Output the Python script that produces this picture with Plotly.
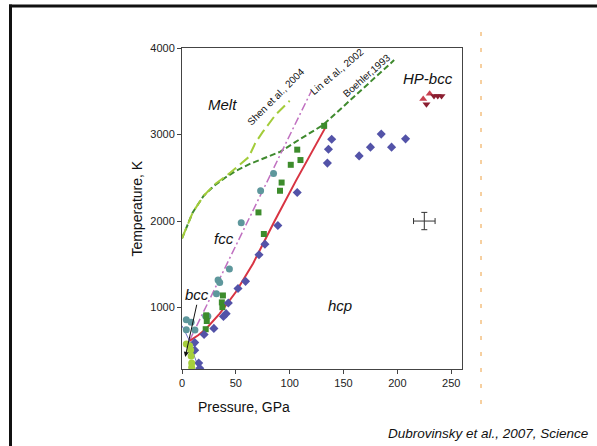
import plotly.graph_objects as go

# ---- data (pressure GPa, temperature K) ----
boehler_p = [0, 5, 10, 20, 30, 40, 50, 63, 91, 110, 131, 160, 197]
boehler_t = [1800, 1960, 2100, 2290, 2410, 2500, 2580, 2660, 2800, 2950, 3110, 3440, 3860]

shen_p = [0, 5, 10, 20, 30, 45, 62, 68, 75, 87, 100]
shen_t = [1800, 1960, 2100, 2290, 2420, 2560, 2740, 2900, 3030, 3230, 3390]

lin_p = [7, 120]
lin_t = [620, 3500]

red_p = [7, 15, 22, 35, 50, 66, 86, 106, 134]
red_t = [615, 680, 750, 930, 1180, 1510, 2000, 2470, 3100]

blue_line_p = [0, 7, 12, 16]
blue_line_t = [790, 615, 420, 290]

teal_p = [85, 73, 55, 44, 33.5, 35, 32, 24, 22, 4, 8.5, 4, 12]
teal_t = [2550, 2350, 1980, 1445, 1320, 1290, 1160, 900, 900, 860, 830, 745, 740]

square_p = [132, 107, 110, 101, 92.5, 91, 71, 76, 38, 37, 37.5, 22.5, 23, 22]
square_t = [3100, 2825, 2705, 2650, 2445, 2350, 2100, 1850, 1140, 1060, 1005, 910, 845, 750]

diamond_p = [139, 136, 135, 164.5, 175, 185, 194.6, 207.6, 107, 89, 77, 71.5, 59, 52,
             43, 41, 38.5, 29.6, 20.5, 11.8, 11.8, 15.5, 16.5]
diamond_t = [2945, 2830, 2670, 2753, 2854, 3005, 2854, 2950, 2330, 1948, 1733, 1610, 1303, 1220,
             1052, 930, 898, 759, 688, 595, 508, 358, 298]

lightgreen_p = [4, 7, 8, 8.5, 9, 9]
lightgreen_t = [580, 560, 510, 440, 360, 310]

tri_up_p = [224, 230]
tri_up_t = [3410, 3470]
tri_down_p = [227, 234, 237.5, 241]
tri_down_t = [3350, 3445, 3445, 3445]

err_p = [225]
err_t = [2000]
err_dp = [10]
err_dt = [100]

x_ticks = [0, 50, 100, 150, 200, 250]
y_ticks = [1000, 2000, 3000, 4000]

fig = go.Figure()

fig.add_trace(go.Scatter(x=boehler_p, y=boehler_t, mode="lines",
                         line=dict(color="#3f8a2e", width=2, dash="6px,3px")))
fig.add_trace(go.Scatter(x=shen_p, y=shen_t, mode="lines",
                         line=dict(color="#a3cc3a", width=2, dash="11px,5px")))
fig.add_trace(go.Scatter(x=lin_p, y=lin_t, mode="lines",
                         line=dict(color="#c070c0", width=1.5, dash="8px,3px,2px,3px")))
fig.add_trace(go.Scatter(x=red_p, y=red_t, mode="lines",
                         line=dict(color="#d83442", width=2)))
fig.add_trace(go.Scatter(x=blue_line_p, y=blue_line_t, mode="lines",
                         line=dict(color="#7070c8", width=1)))

fig.add_trace(go.Scatter(x=teal_p, y=teal_t, mode="markers",
                         marker=dict(symbol="circle", size=7, color="#5e979c")))
fig.add_trace(go.Scatter(x=square_p, y=square_t, mode="markers",
                         marker=dict(symbol="square", size=6, color="#3d8c2c")))
fig.add_trace(go.Scatter(x=diamond_p, y=diamond_t, mode="markers",
                         marker=dict(symbol="diamond", size=7, color="#5353a8")))
fig.add_trace(go.Scatter(x=lightgreen_p, y=lightgreen_t, mode="markers",
                         marker=dict(symbol="circle", size=7, color="#a6cf3c")))
fig.add_trace(go.Scatter(x=tri_up_p, y=tri_up_t, mode="markers",
                         marker=dict(symbol="triangle-up", size=7, color="#c8404f")))
fig.add_trace(go.Scatter(x=tri_down_p, y=tri_down_t, mode="markers",
                         marker=dict(symbol="triangle-down", size=7, color="#8b1e30")))
fig.add_trace(go.Scatter(x=err_p, y=err_t, mode="markers",
                         marker=dict(size=1, color="rgba(0,0,0,0)"),
                         error_x=dict(type="data", array=err_dp, color="#333333", thickness=1, width=3),
                         error_y=dict(type="data", array=err_dt, color="#333333", thickness=1, width=3)))

font_main = "Liberation Sans, Arial, sans-serif"

fig.update_layout(
    width=597, height=446,
    margin=dict(l=182, r=135, t=48, b=77),
    paper_bgcolor="white", plot_bgcolor="white",
    showlegend=False,
    font=dict(family=font_main, size=11, color="#222222"),
    xaxis=dict(range=[0, 260], tickvals=x_ticks, ticks="outside", ticklen=4,
               tickcolor="#444", showline=True, linecolor="#444", linewidth=1,
               mirror=True, showgrid=False, zeroline=False,
               tickfont=dict(size=11, color="#222")),
    yaxis=dict(range=[290, 4000], tickvals=y_ticks, ticks="outside", ticklen=4,
               tickcolor="#444", showline=True, linecolor="#444", linewidth=1,
               mirror=True, showgrid=False, zeroline=False,
               tickfont=dict(size=11, color="#222")),
)

def lab(text, x, y, size=15, angle=0, ref="data"):
    d = dict(text=text, x=x, y=y, showarrow=False, textangle=angle,
             font=dict(family=font_main, size=size, color="#111"),
             xanchor="center", yanchor="middle")
    if ref == "paper":
        d.update(xref="paper", yref="paper")
    fig.add_annotation(**d)

lab("<i>Melt</i>", 38, 3345)
lab("<i>fcc</i>", 38.8, 1801)
lab("<i>bcc</i>", 14, 1150)
lab("<i>hcp</i>", 146.6, 1021)
lab("<i>HP-bcc</i>", 228.6, 3645)
lab("Shen et al., 2004", 87.4, 3436, size=10, angle=-45)
lab("Lin et al., 2002", 144, 3729, size=10, angle=-40)
lab("Boehler,1993", 171.4, 3681, size=10, angle=-41.5)

# axis titles
lab("Pressure, GPa", 0.221, -0.118, size=14, ref="paper")
lab("Temperature, K", -0.164, 0.5, size=14, angle=-90, ref="paper")

# citation
fig.add_annotation(text="<i>Dubrovinsky et al., 2007, Science</i>", xref="paper", yref="paper",
                   x=(488 - 182) / 280, y=(369 - 433) / 321, showarrow=False,
                   xanchor="center", yanchor="middle",
                   font=dict(family=font_main, size=13.5, color="#111"))

# bcc arrow
fig.add_annotation(text="", x=3, y=430, ax=14, ay=1050, axref="x", ayref="y",
                   showarrow=True, arrowhead=2, arrowsize=1, arrowwidth=1,
                   arrowcolor="#111", standoff=0)

# slide frame (black border) and orange dashed line
def px2paper_x(px):
    return (px - 182) / 280

def px2paper_y(py):
    return (369 - py) / 321

fig.add_shape(type="rect", xref="paper", yref="paper",
              x0=px2paper_x(9), x1=px2paper_x(605), y0=px2paper_y(4.5), y1=px2paper_y(7.5),
              line=dict(width=0), fillcolor="#111")
fig.add_shape(type="rect", xref="paper", yref="paper",
              x0=px2paper_x(9), x1=px2paper_x(12), y0=px2paper_y(4.5), y1=px2paper_y(450),
              line=dict(width=0), fillcolor="#111")
fig.add_shape(type="line", xref="paper", yref="paper",
              x0=px2paper_x(481), x1=px2paper_x(481), y0=px2paper_y(32), y1=px2paper_y(412),
              line=dict(color="#eea040", width=1, dash="4px,12px"))

fig.write_html("out.html", config={"displayModeBar": False},
               post_script="document.body.style.margin='0';document.body.style.overflow='hidden';")
